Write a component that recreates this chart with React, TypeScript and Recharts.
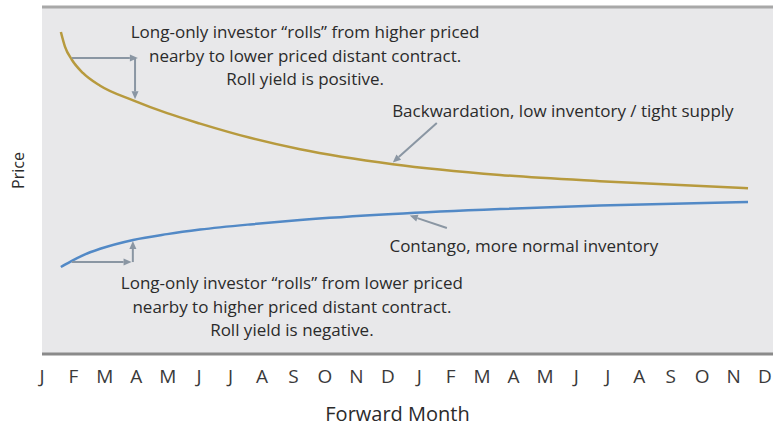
import React from "react";
import {
  ComposedChart,
  Line,
  XAxis,
  YAxis,
  CartesianGrid,
  ReferenceLine,
  ReferenceDot,
} from "recharts";

// Forward month position (0 = first J) and price levels (0..100 scale)
const forwardPos = [0.6, 0.73, 0.95, 1.3, 1.85, 2.9, 3.98, 5.03, 6.62, 8.21, 11.16, 14.57, 17.75, 22.46];
const backwardation = [92.8, 88.6, 84.8, 81.0, 77.3, 73.1, 69.4, 66.4, 62.3, 59.0, 54.7, 51.6, 49.8, 47.8];
const contango = [25.07, 25.76, 26.86, 28.44, 30.32, 32.88, 34.55, 35.85, 37.35, 38.59, 40.32, 41.76, 42.77, 43.8];

const monthLabels = [
  "J", "F", "M", "A", "M", "J", "J", "A", "S", "O", "N", "D",
  "J", "F", "M", "A", "M", "J", "J", "A", "S", "O", "N", "D",
];
const monthTicks = monthLabels.map((_, i) => i);

// annotation arrows (data coordinates)
const arrows = [
  { from: { x: 0.95, y: 85.3 }, to: { x: 3.05, y: 85.3 } },
  { from: { x: 2.96, y: 85.3 }, to: { x: 2.96, y: 73.4 } },
  { from: { x: 0.95, y: 26.5 }, to: { x: 2.85, y: 26.5 } },
  { from: { x: 2.89, y: 26.5 }, to: { x: 2.89, y: 32.6 } },
  { from: { x: 12.56, y: 66.6 }, to: { x: 11.16, y: 55.2 } },
  { from: { x: 12.88, y: 36.3 }, to: { x: 11.7, y: 39.9 } },
];

// annotation texts (data coordinates, centred)
const notes = [
  { x: 8.37, y: 92.8, text: "Long-only investor \u201crolls\u201d from higher priced" },
  { x: 8.37, y: 85.9, text: "nearby to lower priced distant contract." },
  { x: 8.37, y: 79.3, text: "Roll yield is positive." },
  { x: 16.57, y: 70.3, text: "Backwardation, low inventory / tight supply" },
  { x: 15.33, y: 31.4, text: "Contango, more normal inventory" },
  { x: 7.95, y: 20.5, text: "Long-only investor \u201crolls\u201d from lower priced" },
  { x: 7.95, y: 13.8, text: "nearby to higher priced distant contract." },
  { x: 7.95, y: 7.2, text: "Roll yield is negative." },
];

const data = forwardPos.map((x, i) => ({
  x,
  back: backwardation[i],
  cont: contango[i],
}));

const FONT = "'Open Sans', sans-serif";
const ARROW = "#8a96a3";
const TEXT = "#2b2b2b";

const ArrowShape = (p: any) => {
  const { x1, y1, x2, y2 } = p;
  const dx = x2 - x1;
  const dy = y2 - y1;
  const len = Math.sqrt(dx * dx + dy * dy) || 1;
  const ux = dx / len;
  const uy = dy / len;
  const hl = 8;
  const hw = 3.5;
  const bx = x2 - ux * hl;
  const by = y2 - uy * hl;
  const pts = `${x2},${y2} ${bx - uy * hw},${by + ux * hw} ${bx + uy * hw},${by - ux * hw}`;
  return (
    <g>
      <line x1={x1} y1={y1} x2={bx} y2={by} stroke={ARROW} strokeWidth={2} />
      <polygon points={pts} fill={ARROW} />
    </g>
  );
};

export default function App() {
  return (
    <div style={{ position: "absolute", left: 0, top: 0, width: 773, height: 426, overflow: "hidden" }}>
      <ComposedChart
        width={773}
        height={426}
        data={data}
        margin={{ top: 7, right: 0, left: 0, bottom: 0 }}
      >
        <CartesianGrid horizontal={false} vertical={false} fill="#e8e8ea" />
        <XAxis
          dataKey="x"
          type="number"
          domain={[0, 23.255]}
          ticks={monthTicks}
          tickFormatter={(v: number) => monthLabels[v]}
          interval={0}
          allowDataOverflow
          height={72}
          axisLine={{ stroke: "#8a8a8a", strokeWidth: 3 }}
          tickLine={false}
          tickSize={0}
          tickMargin={16}
          tick={{ fill: "#3a3a3a", fontSize: 19, fontFamily: FONT }}
          label={(props: any) => {
            const vb = props.viewBox;
            return (
              <text
                x={vb.x + vb.width / 2 - 10}
                y={vb.y + 59}
                textAnchor="middle"
                dominantBaseline="central"
                fill={TEXT}
                fontSize={20}
                fontFamily={FONT}
              >
                Forward Month
              </text>
            );
          }}
        />
        <YAxis
          type="number"
          domain={[0, 100]}
          width={42}
          axisLine={false}
          tickLine={false}
          tick={false}
          label={(props: any) => {
            const vb = props.viewBox;
            const cx = vb.x + 18;
            const cy = vb.y + vb.height / 2 - 10;
            return (
              <text
                x={cx}
                y={cy}
                transform={`rotate(-90 ${cx} ${cy})`}
                textAnchor="middle"
                dominantBaseline="central"
                fill={TEXT}
                fontSize={16}
                fontFamily={FONT}
              >
                Price
              </text>
            );
          }}
        />
        <ReferenceLine y={100} stroke="#a8a8a8" strokeWidth={3} />
        <Line
          dataKey="back"
          type="monotone"
          stroke="#b79a3e"
          strokeWidth={2.5}
          dot={false}
          isAnimationActive={false}
        />
        <Line
          dataKey="cont"
          type="monotone"
          stroke="#5289c6"
          strokeWidth={2.5}
          dot={false}
          isAnimationActive={false}
        />
        {arrows.map((a, i) => (
          <ReferenceLine key={`a${i}`} segment={[a.from, a.to]} shape={ArrowShape} />
        ))}
        {notes.map((n, i) => (
          <ReferenceDot
            key={`n${i}`}
            x={n.x}
            y={n.y}
            r={0}
            shape={(p: any) => (
              <text
                x={p.cx}
                y={p.cy}
                textAnchor="middle"
                dominantBaseline="central"
                fill={TEXT}
                fontSize={17}
                fontFamily={FONT}
              >
                {n.text}
              </text>
            )}
          />
        ))}
      </ComposedChart>
    </div>
  );
}
